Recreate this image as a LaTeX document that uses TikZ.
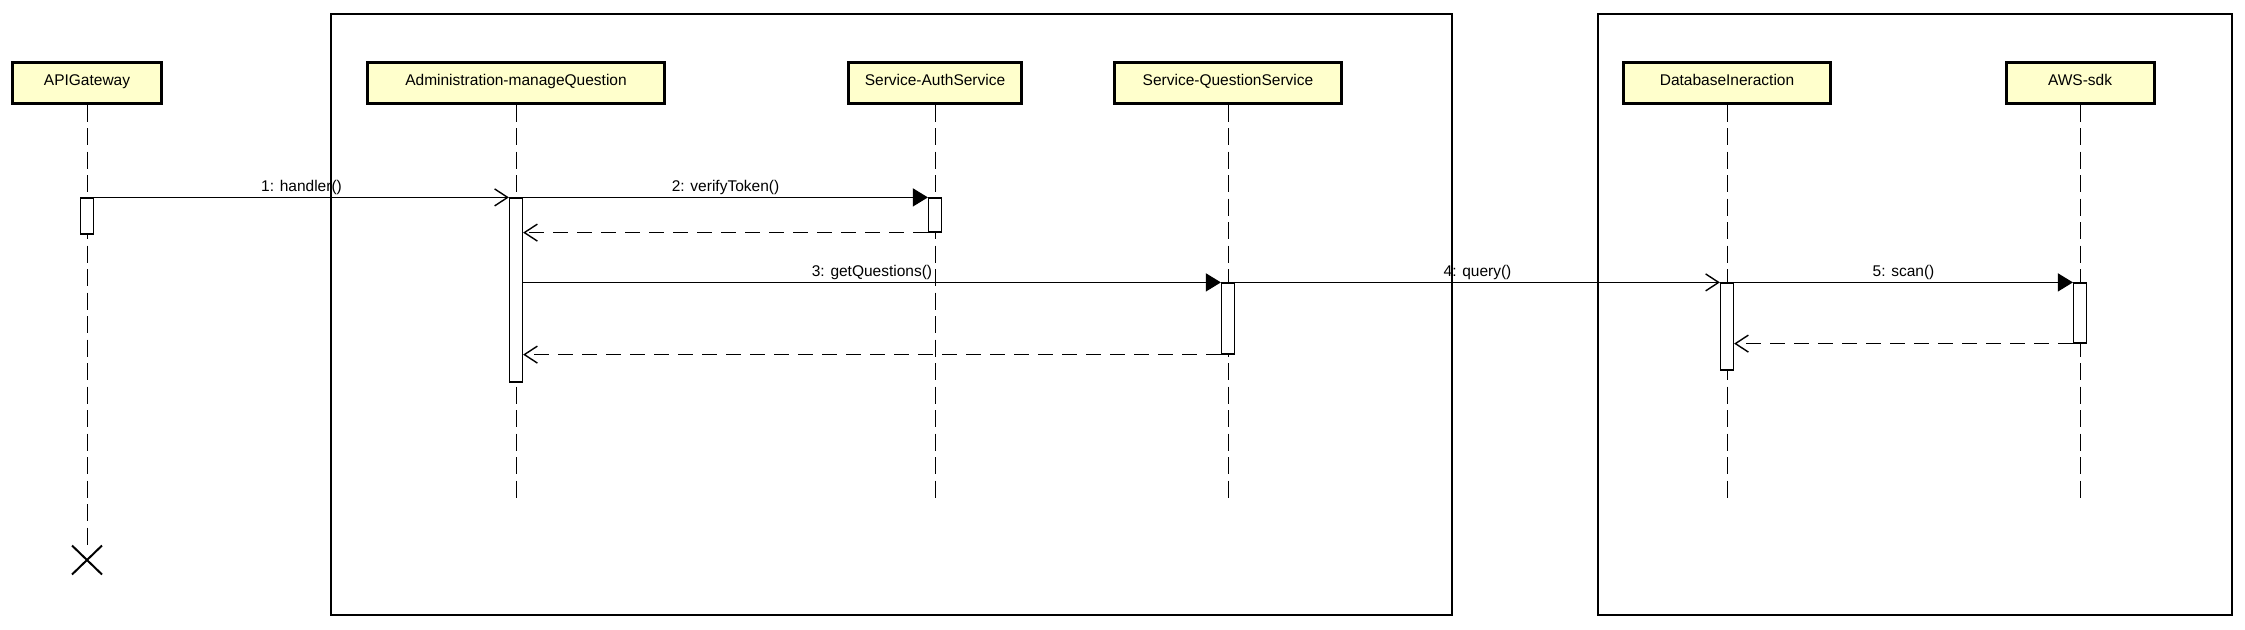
\documentclass[tikz,border=0pt]{standalone}
\usepackage{fontspec}
\setmainfont{Liberation Sans}
\usetikzlibrary{arrows.meta,shapes.misc}
\definecolor{lifebox}{RGB}{255,255,204}
\begin{document}
\begin{tikzpicture}[x=1pt,y=-1pt,
  every node/.style={font=\fontsize{15.5}{18}\selectfont},
  actor/.style={draw, line width=3pt, fill=lifebox, minimum height=41pt, inner sep=0pt, text height=11pt, text depth=6pt},
  act/.style={draw, fill=white, line width=1.2pt, minimum width=13pt, inner sep=0pt},
  lifeline/.style={line width=1pt, dash pattern=on 17pt off 6.5pt},
  frame/.style={line width=1.3pt},
  call/.style={line width=1.3pt, -{Triangle[length=15pt,width=18pt]}},
  async/.style={line width=1.3pt, -{Straight Barb[length=13pt,width=17pt,line width=1.4pt]}},
  reply/.style={line width=1.3pt, dash pattern=on 15pt off 9pt, -{Straight Barb[length=13pt,width=17pt,line width=1.4pt]}},
  msg/.style={above=2pt, inner sep=0pt}
]
\useasboundingbox (0,0) rectangle (2245,629);
% frames
\draw[frame] (331,14) rectangle (1452,615);
\draw[frame] (1598,14) rectangle (2232,615);
% actors
\node[actor, minimum width=149pt] (api) at (87,82.5) {APIGateway};
\node[actor, minimum width=297pt] (adm) at (516,82.5) {Administration-manageQuestion};
\node[actor, minimum width=173pt] (auth) at (935,82.5) {Service-AuthService};
\node[actor, minimum width=227pt] (qs) at (1228,82.5) {Service-QuestionService};
\node[actor, minimum width=207pt] (db) at (1727,82.5) {DatabaseIneraction};
\node[actor, minimum width=148pt] (aws) at (2080,82.5) {AWS-sdk};
% lifeline ends
\node[draw, cross out, line width=2pt, minimum width=28pt, minimum height=27pt, inner sep=0pt] (apix) at (87,560) {};
\coordinate (admend) at (516,503);
\coordinate (authend) at (935,503);
\coordinate (qsend) at (1228,503);
\coordinate (dbend) at (1727,503);
\coordinate (awsend) at (2080,503);
\draw[lifeline] (api) -- (apix);
\draw[lifeline] (adm) -- (admend);
\draw[lifeline] (auth) -- (authend);
\draw[lifeline] (qs) -- (qsend);
\draw[lifeline] (db) -- (dbend);
\draw[lifeline] (aws) -- (awsend);
% activations
\node[act, minimum height=36pt] (apiact) at (87,216) {};
\node[act, minimum height=184pt] (admact) at (516,290) {};
\node[act, minimum height=34pt] (authact) at (935,215) {};
\node[act, minimum height=71pt] (qsact) at (1228,318.5) {};
\node[act, minimum height=87pt] (dbact) at (1727,326.5) {};
\node[act, minimum height=60pt] (awsact) at (2080,313) {};
% messages
\draw[async] (apiact.north east) -- node[msg] {1: handler()} (admact.north west);
\draw[call] (admact.east |- authact.north) -- node[msg] {2: verifyToken()} (authact.north west);
\draw[reply] (authact.south west) -- (admact.east |- authact.south);
\draw[call] (admact.east |- qsact.north) -- node[msg] {3: getQuestions()} (qsact.north west);
\draw[async] (qsact.north east) -- node[msg] {4: query()} (dbact.north west);
\draw[call] (dbact.north east) -- node[msg] {5: scan()} (awsact.north west);
\draw[reply] (awsact.south west) -- (dbact.east |- awsact.south);
\draw[reply] (qsact.south west) -- (admact.east |- qsact.south);
\end{tikzpicture}
\end{document}
